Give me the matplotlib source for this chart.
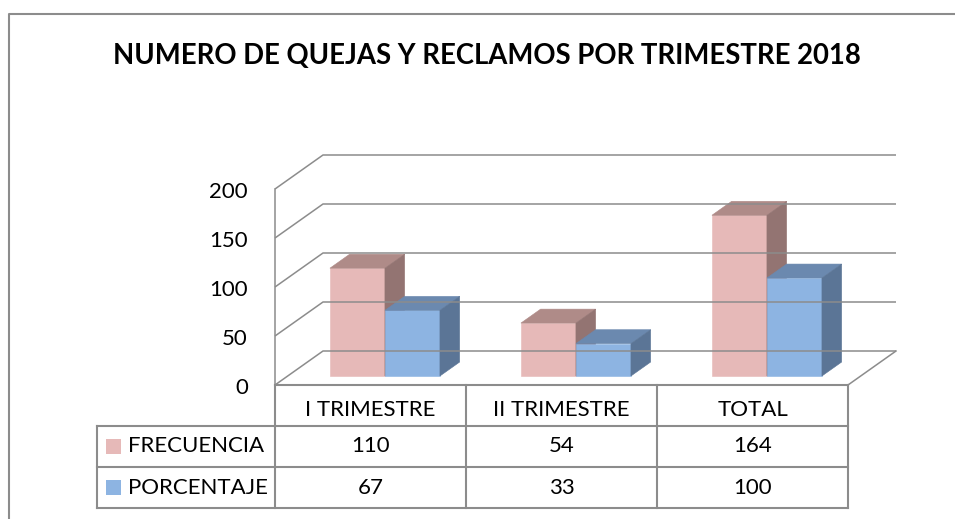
import numpy as np
import matplotlib
matplotlib.use('Agg')
import matplotlib.pyplot as plt
from matplotlib.patches import Polygon, Rectangle

# datos
categorias = ['I TRIMESTRE', 'II TRIMESTRE', 'TOTAL']
series = ['FRECUENCIA', 'PORCENTAJE']
frecuencia = [110, 54, 164]
porcentaje = [67, 33, 100]
ticks_y = [0, 50, 100, 150, 200]
titulo = 'NUMERO DE QUEJAS Y RECLAMOS POR TRIMESTRE 2018'

# colores: frente, arriba, lado
col_frec = ('#E6B9B8', '#AF8B88', '#937472')
col_porc = ('#8DB4E2', '#6B89AF', '#5B7596')
gris = '#8C8C8C'

plt.rcParams['font.family'] = ['Lato', 'DejaVu Sans']

W, H = 955, 519
fig = plt.figure(figsize=(W / 100, H / 100), dpi=100)

# escala del plano frontal (pixeles)
x0_px, px_cat = 275, 191.0
y0_px, px_val = 385, 0.98
dx_px, dy_px = 48, 34
DX = dx_px / px_cat      # profundidad en unidades de categoria
DY = dy_px / px_val      # profundidad en unidades de valor

ax = fig.add_axes([0, 0, 1, 1])
ax.set_xlim(-x0_px / px_cat, (W - x0_px) / px_cat)
ax.set_ylim((y0_px - H) / px_val, y0_px / px_val)
ax.axis('off')


def proj(x, v, d):
    return (x + d * DX, v + d * DY)


n = len(categorias)
vmax = ticks_y[-1]

# paredes: lineas de la cuadricula
for v in ticks_y:
    xs, ys = zip(proj(0, v, 0), proj(0, v, 1), proj(n, v, 1))
    ax.plot(xs, ys, color=gris, lw=1.1, solid_capstyle='butt')
xs, ys = zip(proj(0, 0, 0), proj(0, vmax, 0))
ax.plot(xs, ys, color=gris, lw=1.1)
xs, ys = zip(proj(n, 0, 0), proj(n, 0, 1))
ax.plot(xs, ys, color=gris, lw=1.1)

# etiquetas del eje y
for v in ticks_y:
    ax.text(-27 / px_cat, v - 3, str(v), ha='right', va='center',
            fontsize=16, color='black')

# barras 3D
ancho = 0.288
inicio = 0.221
d0, d1 = 0.265, 0.675


def barra(x, h, cols):
    front, top, side = cols
    caras = [
        ([proj(x, 0, d0), proj(x + ancho, 0, d0), proj(x + ancho, h, d0), proj(x, h, d0)], front),
        ([proj(x, h, d0), proj(x + ancho, h, d0), proj(x + ancho, h, d1), proj(x, h, d1)], top),
        ([proj(x + ancho, 0, d0), proj(x + ancho, 0, d1), proj(x + ancho, h, d1), proj(x + ancho, h, d0)], side),
    ]
    for pts, c in caras:
        ax.add_patch(Polygon(pts, closed=True, facecolor=c, edgecolor=c, lw=0.4))


for i in range(n):
    barra(i + inicio, frecuencia[i], col_frec)
    barra(i + inicio + ancho, porcentaje[i], col_porc)

# tabla de datos y marco en pixeles
pax = fig.add_axes([0, 0, 1, 1], facecolor='none')
pax.set_xlim(0, W)
pax.set_ylim(H, 0)
pax.axis('off')

pax.plot([9, 9, W], [H, 14, 14], color='#8C8C8C', lw=1.5)
pax.text(487, 56, titulo, ha='center', va='center', fontsize=19.8,
         fontweight='bold', color='black')

cols_x = [x0_px + px_cat * i for i in range(n + 1)]
filas_y = [385, 426, 467, 508]
izq = 97
lw_t = 1.5
pax.plot([cols_x[0], cols_x[-1]], [filas_y[0]] * 2, color=gris, lw=lw_t)
for y in filas_y[1:]:
    pax.plot([izq, cols_x[-1]], [y, y], color=gris, lw=lw_t)
for x in cols_x:
    pax.plot([x, x], [filas_y[0], filas_y[-1]], color=gris, lw=lw_t)
pax.plot([izq, izq], [filas_y[1], filas_y[-1]], color=gris, lw=lw_t)

for i, cat in enumerate(categorias):
    cx = (cols_x[i] + cols_x[i + 1]) / 2
    pax.text(cx, (filas_y[0] + filas_y[1]) / 2 + 4, cat, ha='center', va='center', fontsize=16)

valores = [frecuencia, porcentaje]
colores = [col_frec[0], col_porc[0]]
for j, nombre in enumerate(series):
    yc = (filas_y[j + 1] + filas_y[j + 2]) / 2
    pax.add_patch(Rectangle((106, yc - 7.5), 15, 15, facecolor=colores[j], edgecolor='none'))
    pax.text(128, yc, nombre, ha='left', va='center', fontsize=16)
    for i in range(n):
        cx = (cols_x[i] + cols_x[i + 1]) / 2
        pax.text(cx, yc, str(valores[j][i]), ha='center', va='center', fontsize=16)

fig.savefig('out.png', dpi=100)
